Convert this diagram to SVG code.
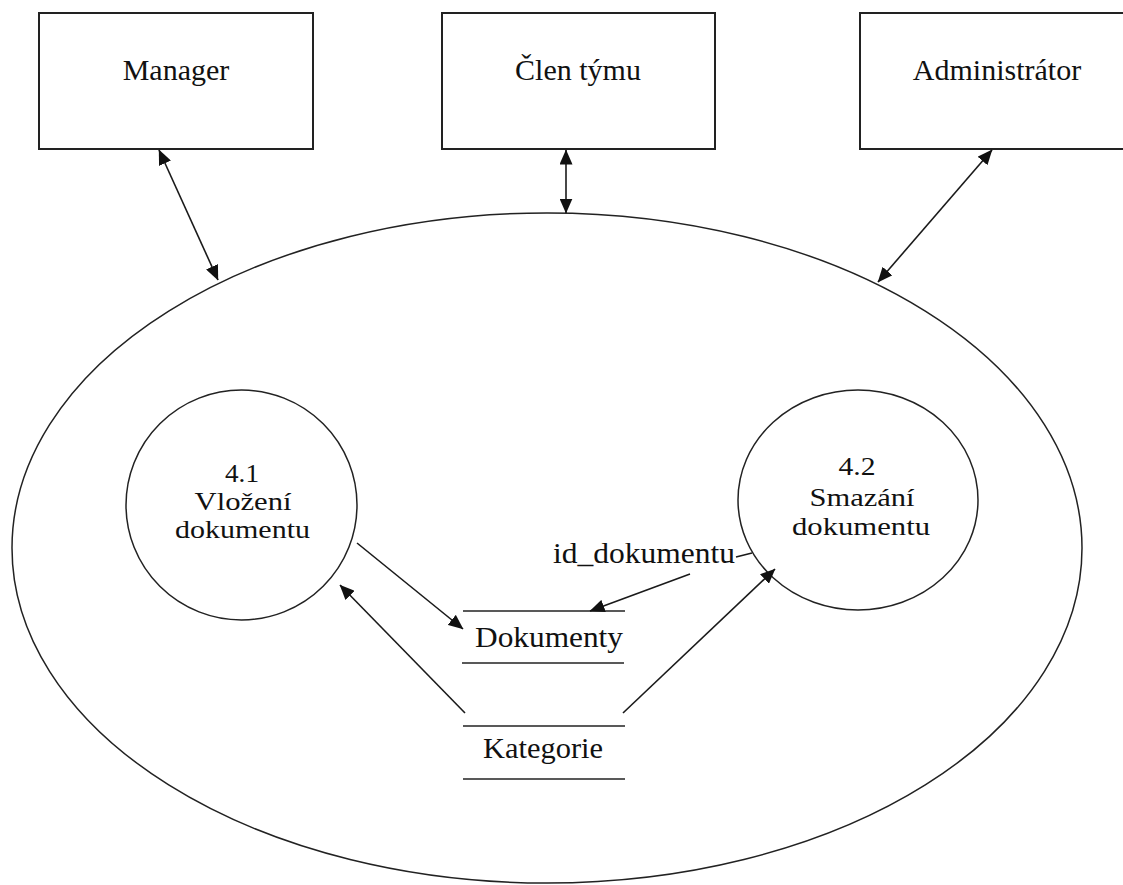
<svg xmlns="http://www.w3.org/2000/svg" width="1123" height="885" viewBox="0 0 1123 885">
<style>
  .box { fill: #ffffff; stroke: #222; stroke-width: 2; }
  .shape { fill: none; stroke: #222; stroke-width: 1.5; }
  .line { fill: none; stroke: #1a1a1a; stroke-width: 1.6; }
  .t { font-family: "Liberation Serif", "Times New Roman", serif; fill: #111; text-anchor: middle; }
  .big { font-size: 30px; }
  .small { font-size: 26px; }
</style>
<defs>
  <marker id="ah" viewBox="0 0 15 13" refX="14.5" refY="6.5" markerWidth="15" markerHeight="13" markerUnits="userSpaceOnUse" orient="auto-start-reverse">
    <path d="M0,0 L15,6.5 L0,13 z" fill="#111"/>
  </marker>
</defs>
<rect width="1123" height="885" fill="#ffffff"/>

<g id="system">
  <ellipse class="shape" cx="547" cy="548" rx="535" ry="335"/>
</g>

<g id="manager">
  <rect class="box" x="39" y="13" width="274" height="136"/>
  <text class="t big" x="176" y="80">Manager</text>
</g>
<g id="clen-tymu">
  <rect class="box" x="442" y="13" width="273" height="136"/>
  <text class="t big" x="578" y="80">Člen týmu</text>
</g>
<g id="administrator">
  <rect class="box" x="860" y="13" width="275" height="136"/>
  <text class="t big" x="997" y="80">Administrátor</text>
</g>

<g id="p41">
  <ellipse class="shape" cx="241.5" cy="505" rx="115.5" ry="115"/>
  <text class="t small" x="242" y="482" textLength="34" lengthAdjust="spacingAndGlyphs">4.1</text>
  <text class="t small" x="243" y="510" textLength="97" lengthAdjust="spacingAndGlyphs">Vložení</text>
  <text class="t small" x="242.5" y="538" textLength="135" lengthAdjust="spacingAndGlyphs">dokumentu</text>
</g>
<g id="p42">
  <ellipse class="shape" cx="858" cy="500" rx="120" ry="110"/>
  <text class="t small" x="857" y="475" textLength="37" lengthAdjust="spacingAndGlyphs">4.2</text>
  <text class="t small" x="862" y="506" textLength="105" lengthAdjust="spacingAndGlyphs">Smazání</text>
  <text class="t small" x="861" y="535" textLength="138" lengthAdjust="spacingAndGlyphs">dokumentu</text>
</g>

<g id="dokumenty">
  <line class="shape" x1="463" y1="611" x2="625" y2="611"/>
  <line class="shape" x1="462" y1="663" x2="624" y2="663"/>
  <text class="t big" x="549" y="647" textLength="148" lengthAdjust="spacingAndGlyphs">Dokumenty</text>
</g>
<g id="kategorie">
  <line class="shape" x1="463" y1="726" x2="625" y2="726"/>
  <line class="shape" x1="463" y1="779" x2="625" y2="779"/>
  <text class="t big" x="543" y="758" textLength="120" lengthAdjust="spacingAndGlyphs">Kategorie</text>
</g>

<g id="connectors">
  <line class="line" x1="159" y1="150" x2="218" y2="280" marker-start="url(#ah)" marker-end="url(#ah)"/>
  <line class="line" x1="566" y1="150" x2="566" y2="213" marker-start="url(#ah)" marker-end="url(#ah)"/>
  <line class="line" x1="992" y1="150" x2="878" y2="282" marker-start="url(#ah)" marker-end="url(#ah)"/>
  <line class="line" x1="357" y1="543" x2="463" y2="629" marker-end="url(#ah)"/>
  <line class="line" x1="465" y1="713" x2="340" y2="585" marker-end="url(#ah)"/>
  <line class="line" x1="623" y1="713" x2="775" y2="569" marker-end="url(#ah)"/>
  <line class="line" x1="736" y1="557" x2="752" y2="553"/>
  <line class="line" x1="690" y1="574" x2="590" y2="611" marker-end="url(#ah)"/>
  <text class="t big" x="644" y="563" textLength="182" lengthAdjust="spacingAndGlyphs">id_dokumentu</text>
</g>
</svg>
